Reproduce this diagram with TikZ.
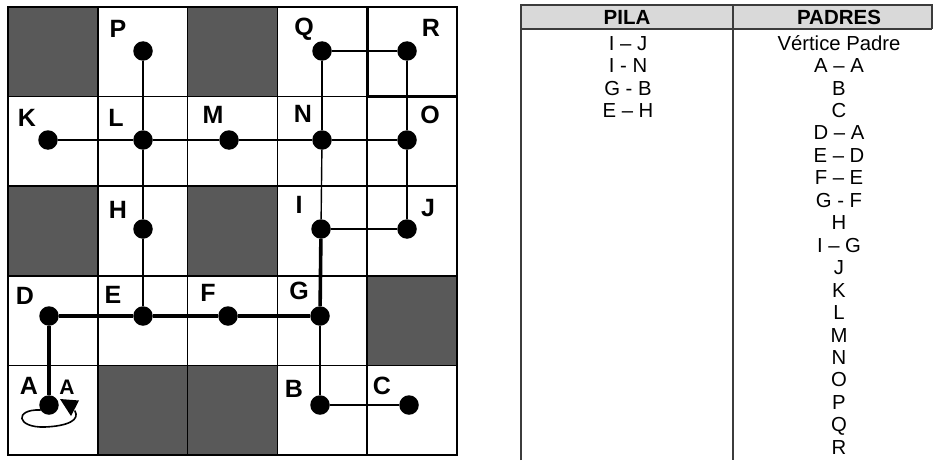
\documentclass[tikz,border=0pt]{standalone}
\usepackage{fontspec}
\setmainfont{Liberation Sans}
\usetikzlibrary{arrows.meta}
\definecolor{darkcell}{RGB}{89,89,89}
\definecolor{headgray}{RGB}{217,217,217}
\definecolor{tabline}{RGB}{60,60,60}
\begin{document}
\begin{tikzpicture}[x=1pt,y=-1pt,
  cellborder/.style={draw=black,line width=1.5pt},
  vdot/.style={circle,fill=black,inner sep=0pt,minimum size=19.5pt},
  lbl/.style={font=\fontsize{25}{25}\selectfont\bfseries,inner sep=0pt,text height=17.4pt,text depth=0pt},
  lblsmall/.style={font=\fontsize{21}{21}\selectfont\bfseries,inner sep=0pt,text height=14.8pt,text depth=0pt},
  edgethin/.style={draw=black,line width=1.4pt},
  edgethick/.style={draw=black,line width=3.6pt},
  tabtext/.style={font=\fontsize{20.3}{20.3}\selectfont,inner sep=0pt,text height=14.3pt,text depth=0pt},
  tabhead/.style={font=\fontsize{20.5}{20.5}\selectfont\bfseries,inner sep=0pt,text height=14.6pt,text depth=0pt},
  tabrule/.style={draw=tabline,line width=1.4pt}
]
\useasboundingbox (0,0) rectangle (933,460);
% grid cells
\foreach \c in {0,...,4}{
  \foreach \r in {0,...,4}{
    \draw[cellborder,fill=white] ({8+\c*89.8},{7+\r*89.6}) rectangle ({8+(\c+1)*89.8},{7+(\r+1)*89.6});
  }
}
\foreach \c/\r in {0/0,2/0,0/2,2/2,4/3,1/4,2/4}{
  \draw[cellborder,fill=darkcell] ({8+\c*89.8},{7+\r*89.6}) rectangle ({8+(\c+1)*89.8},{7+(\r+1)*89.6});
}
\draw[draw=black,line width=2.8pt] (367.2,7) rectangle (457,96.6);

% vertices
\node[vdot] (P) at (143,51) {};
\node[vdot] (Q) at (322,51) {};
\node[vdot] (R) at (407,51) {};
\node[vdot] (K) at (48,140) {};
\node[vdot] (L) at (143,140) {};
\node[vdot] (M) at (229,140) {};
\node[vdot] (N) at (322,140) {};
\node[vdot] (O) at (407,140) {};
\node[vdot] (H) at (143,229) {};
\node[vdot] (I) at (321,229) {};
\node[vdot] (J) at (407,229) {};
\node[vdot] (D) at (49,316) {};
\node[vdot] (E) at (143,316) {};
\node[vdot] (F) at (228,316) {};
\node[vdot] (G) at (320,316) {};
\node[vdot] (A) at (49,405) {};
\node[vdot] (B) at (320,405) {};
\node[vdot] (C) at (409,405) {};

% thin edges
\draw[edgethin] (P) -- (L);
\draw[edgethin] (K) -- (L);
\draw[edgethin] (L) -- (M);
\draw[edgethin] (M) -- (N);
\draw[edgethin] (N) -- (O);
\draw[edgethin] (Q) -- (R);
\draw[edgethin] (Q) -- (N);
\draw[edgethin] (R) -- (O);
\draw[edgethin] (O) -- (J);
\draw[edgethin] (L) -- (H);
\draw[edgethin] (H) -- (E);
\draw[edgethin] (N) -- (I);
\draw[edgethin] (I) -- (J);
\draw[edgethin] (G) -- (B);
\draw[edgethin] (B) -- (C);
% thick edges
\draw[edgethick] (A) -- (D);
\draw[edgethick] (D) -- (E);
\draw[edgethick] (E) -- (F);
\draw[edgethick] (F) -- (G);
\draw[edgethick] (G) -- (I);

% self loop at A
\coordinate (aloop) at (75,411);
\draw[line width=1.6pt,line cap=round]
  (A.210) .. controls (14,409) and (16,428) .. (45,427)
  .. controls (68,426) and (80,420) .. (aloop);
\fill[black] (60,399) -- (79,400.5) -- (71,416) -- cycle;

% labels
\node[lbl] (lP) at (118,29) {P};
\node[lbl] (lQ) at (304,27) {Q};
\node[lbl] (lR) at (431,28) {R};
\node[lbl] (lK) at (27,118) {K};
\node[lbl] (lL) at (116,118) {L};
\node[lbl] (lM) at (213,115) {M};
\node[lbl] (lN) at (303,114) {N};
\node[lbl] (lO) at (430,115) {O};
\node[lbl] (lH) at (118,210) {H};
\node[lbl] (lI) at (299,205) {I};
\node[lbl] (lJ) at (428,208) {J};
\node[lbl] (lD) at (25,296) {D};
\node[lbl] (lE) at (113,295) {E};
\node[lbl] (lF) at (208,293) {F};
\node[lbl] (lG) at (299,291) {G};
\node[lbl] (lA) at (29,386) {A};
\node[lblsmall] (lA2) at (67,387) {A};
\node[lbl] (lB) at (294,389) {B};
\node[lbl] (lC) at (382,386) {C};

% table
\fill[headgray] (521,5) rectangle (932,29);
\draw[tabrule] (521,460) -- (521,5) -- (932,5) -- (932,29);
\draw[tabrule] (521,29) -- (932,29);
\draw[tabrule] (733,5) -- (733,460);
\node[tabhead] (hPila) at (627,17) {PILA};
\node[tabhead] (hPadres) at (839,17) {PADRES};

\foreach \t [count=\i from 0] in {I – J, I - N, G - B, E – H}{
  \node[tabtext] (pila\i) at (628,{43+\i*22.45}) {\t};
}
\foreach \t [count=\i from 0] in {Vértice Padre, A – A, B, C, D – A, E – D, F – E, G - F, H, I – G, J, K, L, M, N, O, P, Q, R}{
  \node[tabtext] (pad\i) at (839,{43+\i*22.45}) {\t};
}
\end{tikzpicture}
\end{document}
